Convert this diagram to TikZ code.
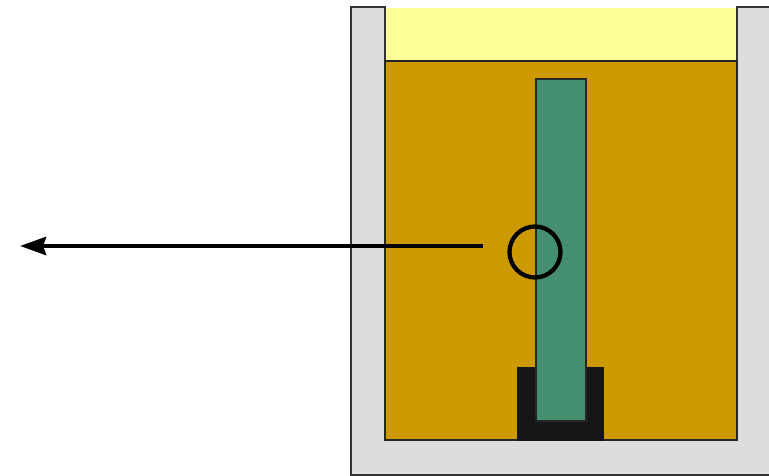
\documentclass[tikz,border=0pt]{standalone}
\usepackage{tikz}
\usetikzlibrary{arrows.meta}
\definecolor{tankgray}{HTML}{DDDDDD}
\definecolor{oillayer}{HTML}{FFFF99}
\definecolor{fluid}{HTML}{CC9900}
\definecolor{strip}{HTML}{448F6F}
\definecolor{holder}{HTML}{141618}
\tikzstyle{wall}=[draw=black!80, line width=1.4pt, fill=tankgray]
\tikzstyle{part}=[draw=black!85, line width=1.4pt]
\tikzstyle{spot}=[draw=black, circle, line width=4.3pt, minimum size=51pt, inner sep=0pt]
\tikzstyle{pointer}=[-{Stealth[length=26pt,width=18pt,inset=3pt]}, line width=4.6pt]

\begin{document}
\begin{tikzpicture}[x=1pt, y=-1pt]
  \useasboundingbox (0,0) rectangle (769,476);
  \clip (0,0) rectangle (769,476);

  % container walls
  \draw[wall] (351,475) -- (351,7) -- (385,7) -- (385,440) -- (737,440)
    -- (737,7) -- (790,7) -- (790,475) -- cycle;

  % layers inside
  \fill[oillayer] (386,8) rectangle (736,61);
  \draw[part, fill=fluid] (385,61) rectangle (737,440);

  % holder and strip
  \fill[holder] (517,367) rectangle (604,441);
  \draw[part, fill=strip] (536,79) rectangle (586,421);

  % marked spot
  \node[spot] (spot) at (535,252) {};
  \coordinate (from) at (483,246);
  \coordinate (to) at (20,246);
  \draw[pointer] (from) -- (to);
\end{tikzpicture}
\end{document}
